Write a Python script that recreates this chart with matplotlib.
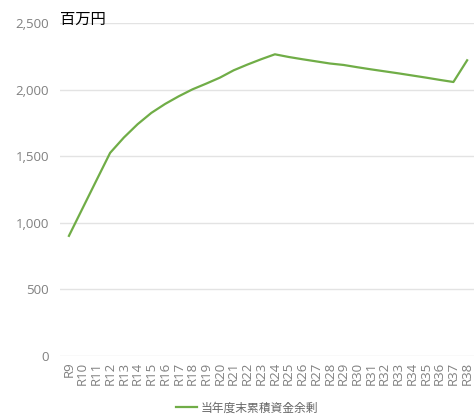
import matplotlib
matplotlib.use('Agg')
import matplotlib.pyplot as plt
from matplotlib.ticker import FuncFormatter

plt.rcParams['font.family'] = ['Open Sans', 'Noto Sans CJK JP', 'DejaVu Sans']

# data (百万円)
years = ['R%d' % i for i in range(9, 39)]
surplus = [902, 1110, 1318, 1525, 1640, 1740, 1825, 1892, 1950, 2002,
           2045, 2090, 2145, 2188, 2228, 2265, 2245, 2228, 2212, 2196,
           2185, 2168, 2152, 2137, 2122, 2106, 2090, 2073, 2057, 2220]
series_name = '当年度末累積資金余剰'
y_ticks = [0, 500, 1000, 1500, 2000, 2500]

fig = plt.figure(figsize=(4.74, 4.19), dpi=100)
ax = fig.add_axes([60 / 474, 63 / 419, 414 / 474, 333 / 419])

x = list(range(len(years)))
ax.plot(x, surplus, color='#70AD47', linewidth=1.6, label=series_name)

ax.set_xlim(-0.65, len(years) - 0.5)
ax.set_ylim(0, 2500)
ax.set_yticks(y_ticks)
ax.yaxis.set_major_formatter(FuncFormatter(lambda v, p: f'{int(v):,}'))
ax.set_xticks(x)
ax.set_xticklabels(years, rotation=90)

ax.grid(axis='y', color='#e3e3e3', linewidth=1)
ax.set_axisbelow(True)
for s in ax.spines.values():
    s.set_visible(False)
ax.tick_params(axis='both', length=0, colors='#808080', labelsize=9.5)
ax.tick_params(axis='x', pad=4)
ax.tick_params(axis='y', pad=8)

fig.text(60 / 474, 1 - 19 / 419, '百万円', fontsize=11, color='black',
         va='center', ha='left', family=['Noto Sans CJK JP'])

fig.legend(loc='center', bbox_to_anchor=(247 / 474, 1 - 408 / 419),
           frameon=False, fontsize=8.5, labelcolor='#666666',
           handlelength=1.8, handletextpad=0.3,
           prop={'family': ['Noto Sans CJK JP'], 'size': 8.5})

fig.savefig('out.png', dpi=100)
